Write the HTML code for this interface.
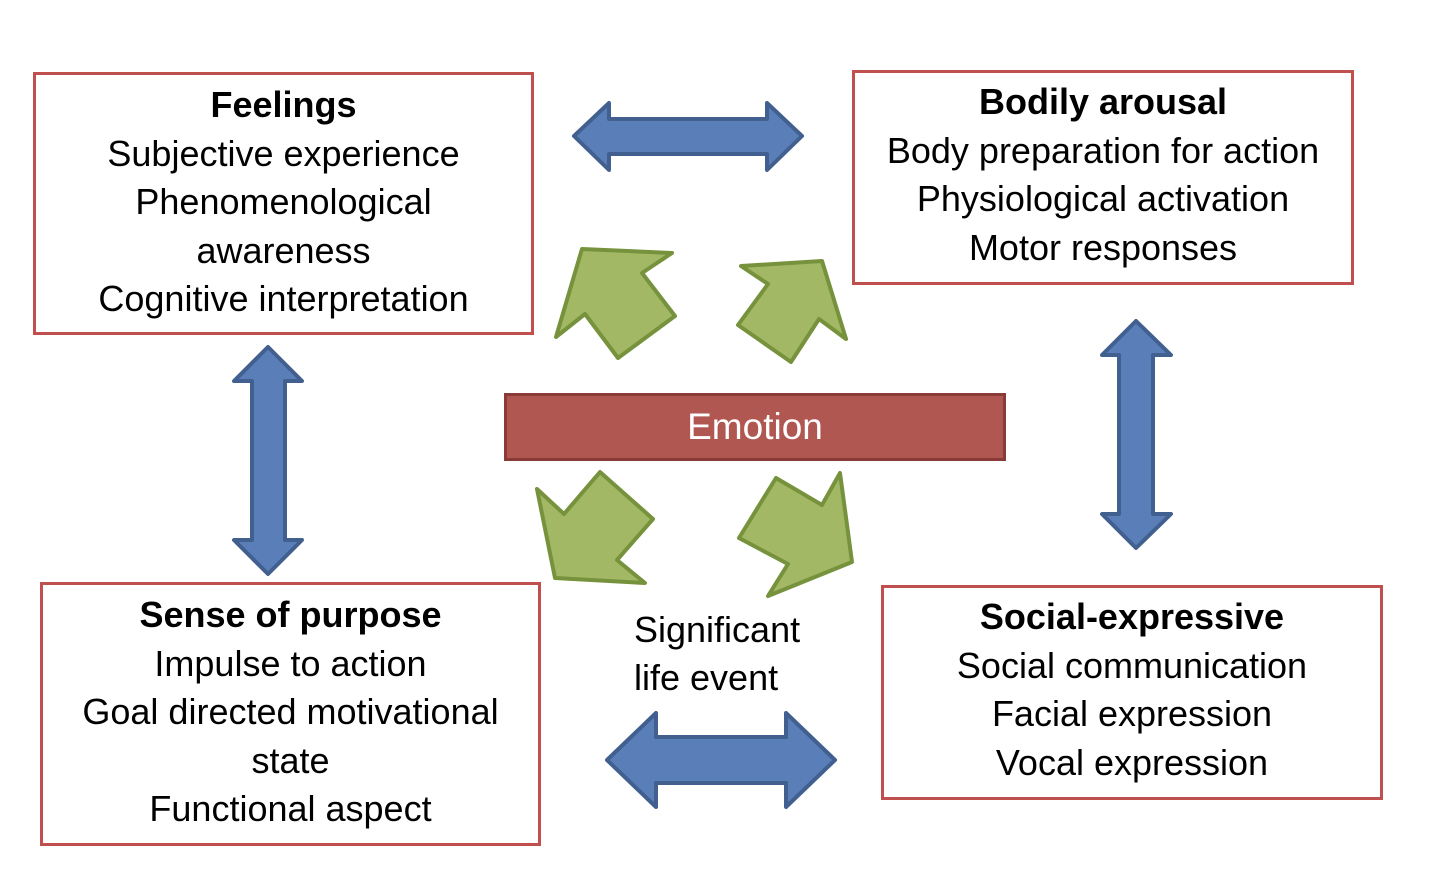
<!DOCTYPE html>
<html><head><style>
body{margin:0;width:1442px;height:870px;background:#fff;position:relative;overflow:hidden;font-family:"Liberation Sans",sans-serif;}
.box{position:absolute;border:3px solid #c0504d;box-sizing:border-box;text-align:center;font-size:36px;line-height:48.5px;color:#000;white-space:nowrap;}
.box b{font-weight:bold;}
.t{position:absolute;font-size:36px;line-height:48px;}
</style></head><body>
<svg width="1442" height="870" style="position:absolute;left:0;top:0">
<g fill="#a3b865" stroke="#76923c" stroke-width="4" stroke-linejoin="round">
<polygon points="582,249 672,253 642,273 675,316 618,358 585,314 556,337"/>
<polygon points="741,266 822,261 846,339 819,319 791,362 738,325 768,284"/>
<polygon points="537,489 564,514 600,472 653,519 617,560 645,583 555,578"/>
<polygon points="776,478 822,505 840,473 852,562 768,596 788,564 739,538"/>
</g>
<g fill="#5a7fb8" stroke="#41608f" stroke-width="4" stroke-linejoin="round">
<polygon points="574,136 609,103 609,119 767,119 767,103 802,136 767,170 767,154 609,154 609,170"/>
<polygon points="607,760 656,713 656,737 786,737 786,713 835,760 786,807 786,783 656,783 656,807"/>
<polygon points="268,347 302,381 285,381 285,540 302,540 268,574 234,540 252,540 252,381 234,381"/>
<polygon points="1136,321 1171,355 1153,355 1153,514 1171,514 1136,548 1102,514 1119,514 1119,355 1102,355"/>
</g>
</svg>
<div class="box" style="left:33px;top:72px;width:501px;height:263px;padding-top:6px"><b>Feelings</b><br>Subjective experience<br>Phenomenological<br>awareness<br>Cognitive interpretation</div>
<div class="box" style="left:852px;top:70px;width:502px;height:215px;padding-top:5px"><b>Bodily arousal</b><br>Body preparation for action<br>Physiological activation<br>Motor responses</div>
<div class="box" style="left:40px;top:582px;width:501px;height:264px;padding-top:6px"><b>Sense of purpose</b><br>Impulse to action<br>Goal directed motivational<br>state<br>Functional aspect</div>
<div class="box" style="left:881px;top:585px;width:502px;height:215px;padding-top:5px"><b>Social-expressive</b><br>Social communication<br>Facial expression<br>Vocal expression</div>
<div style="position:absolute;left:504px;top:393px;width:502px;height:68px;box-sizing:border-box;background:#b05752;border:3px solid #8a3b38;color:#fff;font-size:37px;text-align:center;line-height:62px">Emotion</div>
<div class="t" style="left:634px;top:606px">Significant<br>life event</div>
</body></html>
